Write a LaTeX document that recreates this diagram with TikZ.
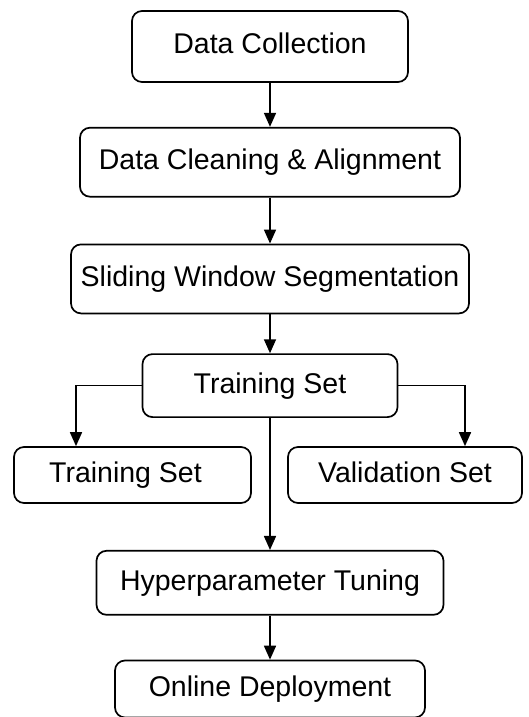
\documentclass[tikz,border=0pt]{standalone}
\usepackage{fontspec}
\setmainfont{Liberation Sans}
\usetikzlibrary{positioning, arrows.meta}

\begin{document}
\begin{tikzpicture}[x=1pt, y=-1pt, ->, >={Triangle[length=14pt, width=12pt]}, line width=1.7pt,
    box/.style={draw, rounded corners=10pt, inner sep=0pt, text height=21pt, text depth=6pt, font=\fontsize{28.5}{34}\selectfont}]
      \useasboundingbox (0,0) rectangle (529,717);

      \node[box, minimum width=276pt, minimum height=71pt] (collect) at (270,46.5) {Data Collection};
      \node[box, minimum width=380pt, minimum height=69pt] (clean) [below=44pt of collect] {Data Cleaning \& Alignment};
      \node[box, minimum width=398pt, minimum height=69pt] (slide) [below=46pt of clean] {Sliding Window Segmentation};
      \node[box, minimum width=255pt, minimum height=63pt] (train) [below=39pt of slide] {Training Set};
      \node[box, minimum width=237pt, minimum height=56pt] (trainsub) at (132.5,475) {Training Set\hspace*{14pt}};
      \node[box, minimum width=234pt, minimum height=56pt] (valid) at (405,475) {Validation Set};
      \node[box, minimum width=347pt, minimum height=64pt] (tune) [below=132pt of train] {Hyperparameter Tuning};
      \node[box, minimum width=310pt, minimum height=57pt] (deploy) [below=44pt of tune] {Online Deployment};

      \draw (collect) -- (clean);
      \draw (clean) -- (slide);
      \draw (slide) -- (train);
      \draw (train.west) -| ([xshift=-56.5pt]trainsub.north);
      \draw (train.east) -| ([xshift=60pt]valid.north);
      \draw (train) -- (tune);
      \draw (tune) -- (deploy);
    \end{tikzpicture}
\end{document}
